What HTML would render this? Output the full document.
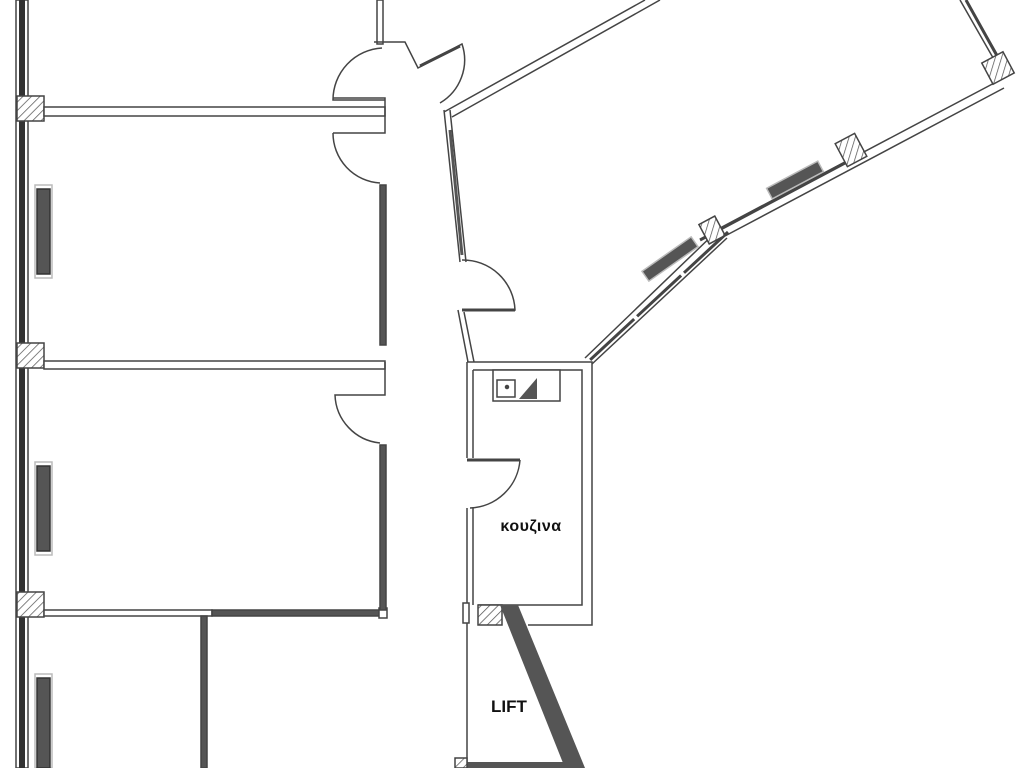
<!DOCTYPE html>
<html><head><meta charset="utf-8"><style>
html,body{margin:0;padding:0;background:#fff;width:1024px;height:768px;overflow:hidden}
svg{display:block}
text{font-family:"Liberation Sans","DejaVu Sans",sans-serif;font-weight:bold;fill:#111}
</style></head><body>
<svg width="1024" height="768" viewBox="0 0 1024 768" xmlns="http://www.w3.org/2000/svg">
<defs>
<pattern id="h" width="6" height="6" patternUnits="userSpaceOnUse" patternTransform="rotate(45)">
<rect width="6" height="6" fill="#fff"/><line x1="0" y1="0" x2="0" y2="6" stroke="#555" stroke-width="1.5"/>
</pattern>
</defs>
<g fill="none" stroke="#444" stroke-width="1.5">
<rect x="16" y="0" width="12" height="768" fill="#fff"/>
<rect x="19" y="0" width="6" height="768" fill="#333" stroke="none"/>
<rect x="17" y="96" width="27" height="25" fill="url(#h)"/>
<rect x="17" y="343" width="27" height="25" fill="url(#h)"/>
<rect x="17" y="592" width="27" height="25" fill="url(#h)"/>
<rect x="44" y="107" width="341" height="9" fill="#fff"/>
<rect x="44" y="361" width="341" height="8" fill="#fff"/>
<rect x="44" y="610" width="168" height="6" fill="#fff"/>
<rect x="212" y="610" width="170" height="6" fill="#555"/>
<rect x="379" y="608" width="8" height="10" fill="#fff"/>
<rect x="380" y="185" width="6" height="160" fill="#555"/>
<rect x="380" y="445" width="6" height="165" fill="#555"/>
<rect x="201" y="616" width="6" height="152" fill="#555"/>
<rect x="377" y="0" width="6" height="44" fill="#fff"/>
<path d="M385 100 L333 100 A52 52 0 0 1 382 48" />
<path d="M333 98 L385 98 L385 133 L333 133" />
<path d="M333 133 A50 50 0 0 0 380 183" />
<path d="M385 362 L385 395 L335 395 A50 50 0 0 0 380 443" />
<path d="M374 42 L405 42 L418 68 L462 44 A50 50 0 0 1 440 103" />
<path d="M420 66 L460 46" stroke-width="3"/>
<path d="M444 110 L460 262 M450 110 L466 262" />
<path d="M450 130 L462 255" stroke="#555" stroke-width="3"/>
<path d="M462 260 A52 52 0 0 1 515 310 L462 310" />
<path d="M462 310 L515 310" stroke-width="3"/>
<path d="M458 310 L468 362 M464 312 L474 362" />
<path d="M444 112 L645 0 M452 117 L660 0" />
<path d="M960 0 L1000 70 M966 0 L1005 68" />
<path d="M966 0 L1001 63" stroke="#444" stroke-width="3"/>
<path d="M1000 80 L720 228 M1004 88 L725 236" />
<path d="M720 228 L585 358 M727 238 L592 364" />
<path d="M728 232 L590 360" stroke="#444" stroke-width="3" stroke-dasharray="60 4"/>
<path d="M700 240 L860 155" stroke="#444" stroke-width="3"/>
<g transform="translate(998,68) rotate(-28)"><rect x="-12" y="-12" width="24" height="24" fill="url(#h)"/></g>
<g transform="translate(851,150) rotate(-28)"><rect x="-11" y="-13" width="22" height="26" fill="url(#h)"/></g>
<g transform="translate(712,230) rotate(-28)"><rect x="-9" y="-11" width="18" height="22" fill="url(#h)"/></g>
<g transform="translate(795,180) rotate(-28)"><rect x="-29" y="-6" width="58" height="12" fill="#555" stroke="#bbb"/></g>
<g transform="translate(670,259) rotate(-35)"><rect x="-30" y="-6" width="60" height="12" fill="#555" stroke="#bbb"/></g>
<rect x="35" y="185" width="17" height="93" stroke="#bbb" fill="#fff"/>
<rect x="37" y="189" width="13" height="85" fill="#555" stroke="#333"/>
<rect x="35" y="462" width="17" height="93" stroke="#bbb" fill="#fff"/>
<rect x="37" y="466" width="13" height="85" fill="#555" stroke="#333"/>
<rect x="35" y="674" width="17" height="94" stroke="#bbb" fill="#fff"/>
<rect x="37" y="678" width="13" height="90" fill="#555" stroke="#333"/>
<path d="M467 362 L592 362 L592 625 L528 625 M467 362 L467 458 M467 508 L467 768" />
<path d="M473 370 L582 370 L582 605 L478 605 M473 370 L473 458 M473 508 L473 605" />
<rect x="493" y="370" width="67" height="31" fill="#fff"/>
<rect x="497" y="380" width="18" height="17" fill="#fff"/>
<circle cx="507" cy="387" r="1.5" fill="#444"/>
<path d="M519 399 L537 378 L537 399 Z" fill="#555" stroke="none"/>
<path d="M467 460 L520 460" stroke-width="3"/>
<path d="M520 460 A52 52 0 0 1 470 508" />
<rect x="478" y="605" width="24" height="20" fill="url(#h)"/>
<rect x="463" y="603" width="6" height="20" fill="#fff"/>
<path d="M500 605 L518 605 L585 768 L565 768 Z" fill="#555" stroke="none"/>
<rect x="467" y="762" width="110" height="6" fill="#555" stroke="none"/>
<rect x="455" y="758" width="12" height="10" fill="url(#h)"/>
</g>
<text x="531" y="531" font-size="16" text-anchor="middle" letter-spacing="0.5">κουζινα</text>
<text x="509" y="712" font-size="17" text-anchor="middle">LIFT</text>
</svg>
</body></html>
